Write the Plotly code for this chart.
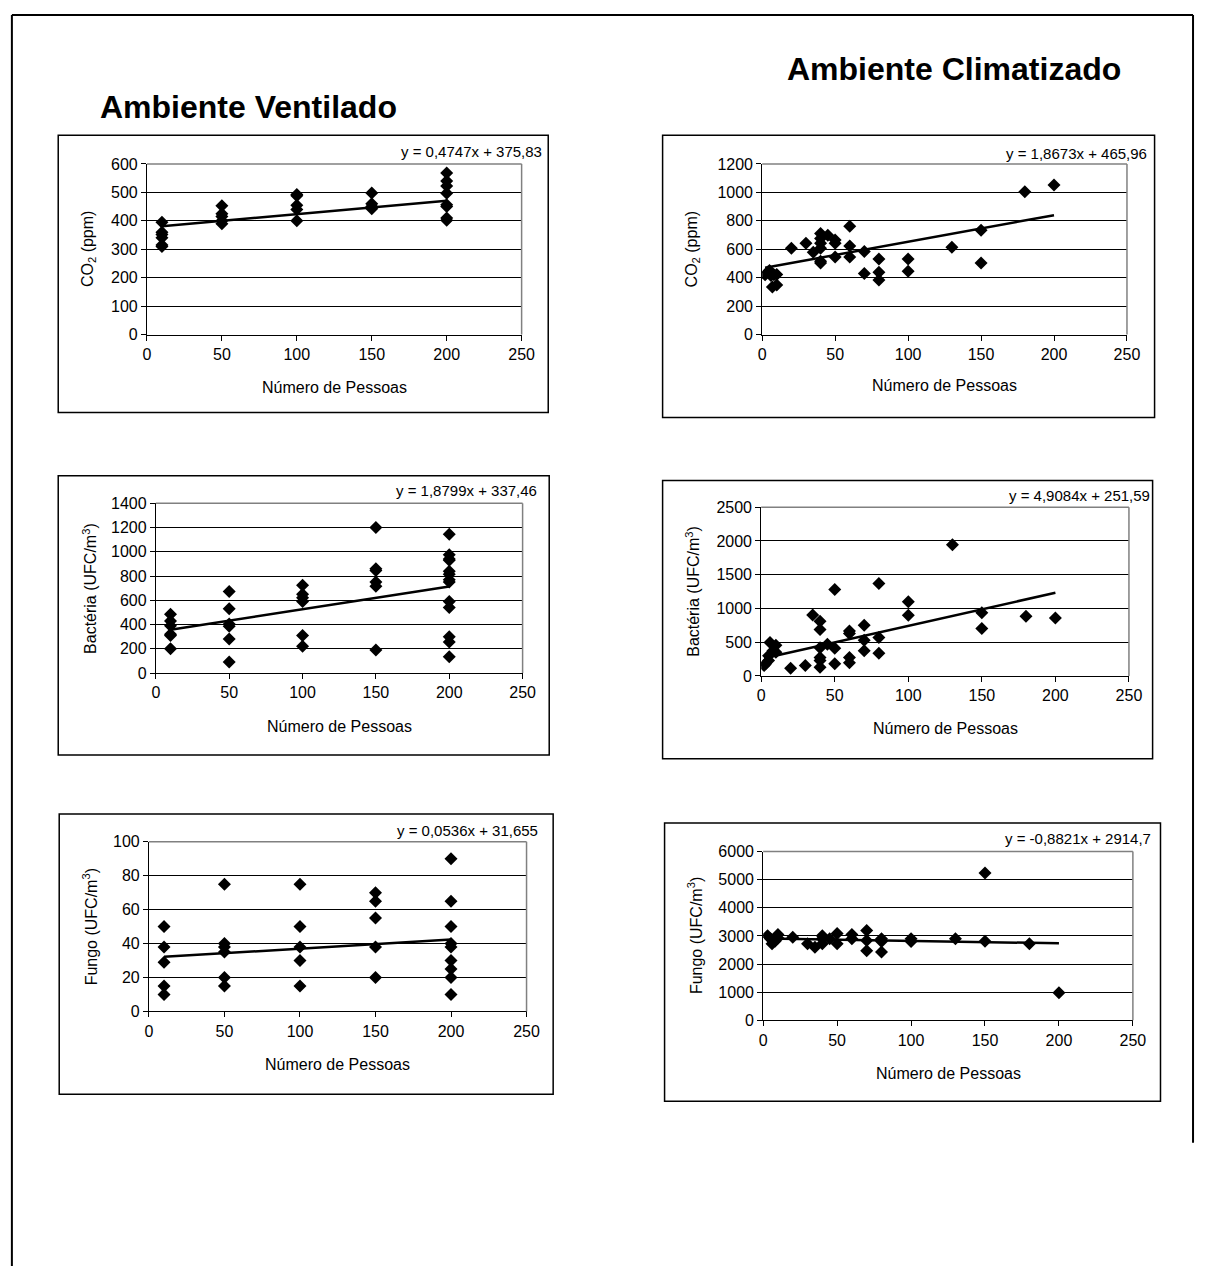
import plotly.graph_objects as go

# ---------------- data ----------------
x_axis_ticks = [0, 50, 100, 150, 200, 250]
x_title = "Número de Pessoas"

# Ambiente Ventilado - CO2
co2_vent_x = [10, 10, 10, 10, 10, 10, 50, 50, 50, 50, 50, 100, 100, 100, 100, 100,
              150, 150, 150, 150, 200, 200, 200, 200, 200, 200, 200, 200]
co2_vent_y = [395, 360, 352, 340, 315, 310, 453, 425, 415, 400, 390, 492, 488, 455, 440, 400,
              498, 460, 450, 442, 568, 540, 522, 497, 456, 450, 410, 402]
co2_vent_fit = (0.4747, 375.83)

# Ambiente Climatizado - CO2
co2_clim_x = [2, 4, 5, 6, 7, 8, 10, 10, 20, 30, 35, 40, 40, 40, 40, 40, 40, 45, 50, 50, 50,
              60, 60, 60, 70, 70, 80, 80, 80, 100, 100, 130, 150, 150, 180, 200]
co2_clim_y = [420, 440, 450, 415, 335, 420, 422, 348, 607, 642, 579, 711, 676, 642, 607, 515, 503,
              699, 665, 642, 545, 762, 623, 545, 584, 429, 531, 438, 383, 531, 445, 614, 734, 503,
              1004, 1052]
co2_clim_fit = (1.8673, 465.96)

# Ambiente Ventilado - Bacteria
bac_vent_x = [10, 10, 10, 10, 10, 10, 50, 50, 50, 50, 50, 50, 100, 100, 100, 100, 100, 100,
              150, 150, 150, 150, 150, 150, 200, 200, 200, 200, 200, 200, 200, 200, 200, 200,
              200, 200, 200]
bac_vent_y = [485, 430, 390, 320, 310, 200, 672, 530, 405, 385, 280, 90, 725, 650, 620, 590, 310, 220,
              1200, 860, 845, 750, 715, 190, 1145, 975, 940, 930, 840, 815, 770, 750, 590, 540,
              300, 255, 135]
bac_vent_fit = (1.8799, 337.46)

# Ambiente Climatizado - Bacteria
bac_clim_x = [2, 3, 5, 5, 6, 8, 10, 10, 20, 30, 35, 40, 40, 40, 40, 40, 40, 45, 50, 50, 50,
              60, 60, 60, 60, 70, 70, 70, 80, 80, 80, 100, 100, 130, 150, 150, 180, 200]
bac_clim_y = [155, 180, 230, 300, 495, 375, 455, 350, 115, 155, 905, 810, 690, 420, 275, 230, 130,
              470, 1280, 410, 180, 665, 630, 275, 195, 750, 530, 375, 1370, 570, 335, 1100, 900,
              1945, 935, 705, 885, 860]
bac_clim_fit = (4.9084, 251.59)

# Ambiente Ventilado - Fungo
fun_vent_x = [10, 10, 10, 10, 10, 50, 50, 50, 50, 50, 50, 100, 100, 100, 100, 100,
              150, 150, 150, 150, 150, 200, 200, 200, 200, 200, 200, 200, 200, 200]
fun_vent_y = [50, 38, 29, 15, 10, 75, 40, 38, 35, 20, 15, 75, 50, 38, 30, 15,
              70, 65, 55, 38, 20, 90, 65, 50, 40, 38, 30, 25, 20, 10]
fun_vent_fit = (0.0536, 31.655)

# Ambiente Climatizado - Fungo
fun_clim_x = [3, 5, 6, 8, 10, 10, 20, 30, 35, 40, 40, 40, 45, 50, 50, 60, 60, 70, 70, 70,
              80, 80, 80, 100, 100, 130, 150, 150, 180, 200]
fun_clim_y = [3010, 2900, 2720, 2810, 3050, 2930, 2950, 2720, 2600, 3010, 2900, 2720, 2900, 3090,
              2720, 3050, 2900, 3190, 2840, 2470, 2900, 2800, 2430, 2900, 2800, 2900, 5240, 2810,
              2720, 980]
fun_clim_fit = (-0.8821, 2914.7)

titles = ["Ambiente Ventilado", "Ambiente Climatizado"]
y_titles = ["CO<sub>2</sub> (ppm)", "CO<sub>2</sub> (ppm)",
            "Bactéria (UFC/m<sup>3</sup>)", "Bactéria (UFC/m<sup>3</sup>)",
            "Fungo (UFC/m<sup>3</sup>)", "Fungo (UFC/m<sup>3</sup>)"]
eq_texts = ["y = 0,4747x + 375,83", "y = 1,8673x + 465,96",
            "y = 1,8799x + 337,46", "y = 4,9084x + 251,59",
            "y = 0,0536x + 31,655", "y = -0,8821x + 2914,7"]
y_ranges = [(0, 600, 100), (0, 1200, 200), (0, 1400, 200), (0, 2500, 500), (0, 100, 20), (0, 6000, 1000)]

series = [(co2_vent_x, co2_vent_y, co2_vent_fit), (co2_clim_x, co2_clim_y, co2_clim_fit),
          (bac_vent_x, bac_vent_y, bac_vent_fit), (bac_clim_x, bac_clim_y, bac_clim_fit),
          (fun_vent_x, fun_vent_y, fun_vent_fit), (fun_clim_x, fun_clim_y, fun_clim_fit)]

# ---------------- layout geometry (pixels) ----------------
W, H = 1208, 1275
FONT = "Arial, Liberation Sans, sans-serif"
# plot area: x-left, x-right, y-top, y-bottom
plot_px = [(145, 525, 158, 331), (769, 1139, 158, 331),
           (154, 526, 502, 674), (768, 1141, 506, 677),
           (147, 530, 845, 1017), (770, 1145, 855, 1026)]
# chart boxes: x0, y0, x1, y1
box_px = [(55, 129, 552, 410), (668, 129, 1167, 415),
          (55, 474, 553, 757), (668, 479, 1165, 761),
          (56, 817, 557, 1101), (670, 826, 1173, 1108)]
xtitle_y = [385, 383, 728, 730, 1071, 1080]
ytitle_x = [85, 698, 87, 698, 87, 701]
eq_pos = [(548, 145), (1161, 147), (543, 489), (1164, 494), (544, 834), (1165, 842)]

def fx(p):
    return p / W

def fy(p):
    return 1 - p / H

fig = go.Figure()
shapes = []
annotations = []

for i, ((xs, ys, (m, b)), (l, r, t, bt)) in enumerate(zip(series, plot_px)):
    n = "" if i == 0 else str(i + 1)
    xa, ya = "x" + n, "y" + n
    fig.add_trace(go.Scatter(x=xs, y=ys, mode="markers", xaxis=xa, yaxis=ya,
                             marker=dict(symbol="diamond", size=10, color="black"),
                             showlegend=False, hoverinfo="x+y"))
    xmin, xmax = min(xs), max(xs)
    fig.add_trace(go.Scatter(x=[xmin, xmax], y=[m * xmin + b, m * xmax + b], mode="lines",
                             xaxis=xa, yaxis=ya, line=dict(color="black", width=2.5),
                             showlegend=False, hoverinfo="skip"))
    y0, y1, dy = y_ranges[i]
    fig.layout["xaxis" + n] = dict(domain=[fx(l), fx(r)], range=[0, 250], tickvals=x_axis_ticks,
                                   anchor=ya, showgrid=False, zeroline=False, showline=True,
                                   linecolor="black", linewidth=1, ticks="outside", ticklen=5,
                                   tickcolor="black", tickfont=dict(family=FONT, size=16, color="black"),
                                   fixedrange=True)
    fig.layout["yaxis" + n] = dict(domain=[fy(bt), fy(t)], range=[y0, y1], dtick=dy, tick0=0,
                                   anchor=xa, showgrid=True, gridcolor="black", gridwidth=1,
                                   zeroline=False, showline=True, linecolor="black", linewidth=1,
                                   ticks="outside", ticklen=5, tickcolor="black",
                                   tickfont=dict(family=FONT, size=16, color="black"),
                                   fixedrange=True)
    # gray top/right plot area border
    shapes.append(dict(type="line", xref="paper", yref="paper", x0=fx(l), x1=fx(r), y0=fy(t), y1=fy(t),
                       line=dict(color="#808080", width=1.5), layer="above"))
    shapes.append(dict(type="line", xref="paper", yref="paper", x0=fx(r), x1=fx(r), y0=fy(t), y1=fy(bt),
                       line=dict(color="#808080", width=1.5), layer="above"))
    # chart box
    bx0, by0, bx1, by1 = box_px[i]
    shapes.append(dict(type="rect", xref="paper", yref="paper", x0=fx(bx0), x1=fx(bx1),
                       y0=fy(by1), y1=fy(by0), line=dict(color="black", width=1.5)))
    # axis titles
    annotations.append(dict(text=x_title, xref="paper", yref="paper", x=fx((l + r) / 2), y=fy(xtitle_y[i]),
                            showarrow=False, xanchor="center", yanchor="middle",
                            font=dict(family=FONT, size=16, color="black")))
    annotations.append(dict(text=y_titles[i], xref="paper", yref="paper", x=fx(ytitle_x[i]),
                            y=fy((t + bt) / 2), textangle=-90, showarrow=False,
                            xanchor="center", yanchor="middle",
                            font=dict(family=FONT, size=16, color="black")))
    ex, ey = eq_pos[i]
    annotations.append(dict(text=eq_texts[i], xref="paper", yref="paper", x=fx(ex), y=fy(ey),
                            showarrow=False, xanchor="right", yanchor="middle",
                            font=dict(family=FONT, size=15, color="black")))

# main titles
annotations.append(dict(text="<b>" + titles[0] + "</b>", xref="paper", yref="paper", x=fx(248), y=fy(100),
                        showarrow=False, xanchor="center", yanchor="middle",
                        font=dict(family=FONT, size=32, color="black")))
annotations.append(dict(text="<b>" + titles[1] + "</b>", xref="paper", yref="paper", x=fx(964), y=fy(62),
                        showarrow=False, xanchor="center", yanchor="middle",
                        font=dict(family=FONT, size=32, color="black")))

# outer frame (left, top, right)
shapes.append(dict(type="line", xref="paper", yref="paper", x0=fx(8), x1=fx(8), y0=0, y1=fy(7),
                   line=dict(color="black", width=2)))
shapes.append(dict(type="line", xref="paper", yref="paper", x0=fx(8), x1=fx(1206), y0=fy(7), y1=fy(7),
                   line=dict(color="black", width=2)))
shapes.append(dict(type="line", xref="paper", yref="paper", x0=fx(1206), x1=fx(1206), y0=fy(1150), y1=fy(7),
                   line=dict(color="black", width=2)))

fig.update_layout(width=W, height=H, margin=dict(l=0, r=0, t=0, b=0),
                  paper_bgcolor="white", plot_bgcolor="white",
                  shapes=shapes, annotations=annotations, showlegend=False)

fig.write_html("out.html", config={"displayModeBar": False})
